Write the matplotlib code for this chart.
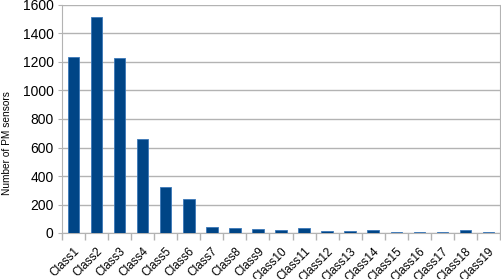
import matplotlib.pyplot as plt
import numpy as np

plt.rcParams['font.family'] = ['Liberation Sans', 'DejaVu Sans']

classes = ["Class%d" % i for i in range(1, 20)]
counts = [1235, 1514, 1226, 660, 325, 241, 40, 35, 26, 21, 35, 14, 14, 21, 7, 10, 7, 21, 7]

fig = plt.figure(figsize=(5.01, 2.79), dpi=100)
ax = fig.add_axes([62 / 501, 1 - 233 / 279, 438 / 501, 228 / 279])

x = np.arange(len(classes))
ax.bar(x, counts, width=0.5, color="#004586", edgecolor="#3b78b8", linewidth=0.6, zorder=3)

ax.set_xlim(-0.5, len(classes) - 0.5)
ax.set_ylim(0, 1600)
ax.set_yticks(np.arange(0, 1601, 200))
ax.yaxis.grid(True, color="#b3b3b3", linewidth=1)
ax.tick_params(axis="y", length=3, color="#b3b3b3", labelsize=10, pad=3)

ax.set_xticks(x)
ax.set_xticklabels(classes, rotation=45, ha="right", rotation_mode="anchor", fontsize=8.5)
ax.set_xticks(np.arange(-0.5, len(classes)), minor=True)
ax.tick_params(axis="x", which="major", length=0, pad=9)
ax.tick_params(axis="x", which="minor", length=5, color="#b3b3b3", width=1)

for s in ["left", "right", "bottom"]:
    ax.spines[s].set_color("#b3b3b3")
ax.spines["top"].set_visible(False)

ax.set_ylabel("Number of PM sensors", fontsize=7.3)
ax.yaxis.set_label_coords(-0.114, 0.395)

fig.savefig("out.png", dpi=100)
